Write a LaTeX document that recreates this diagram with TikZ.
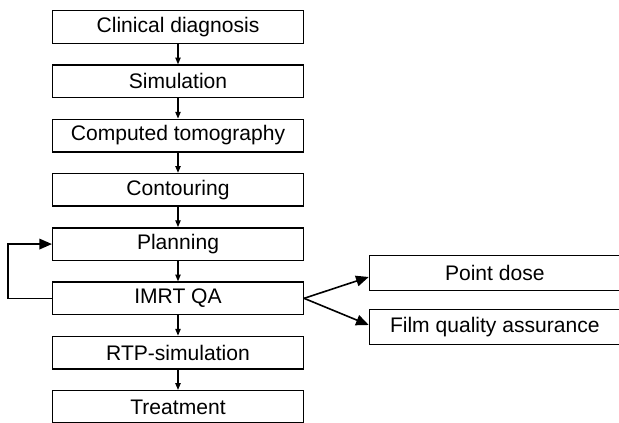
\documentclass[tikz,border=0pt]{standalone}
\usepackage{fontspec}
\setmainfont{Liberation Sans}
\usetikzlibrary{calc,arrows.meta,positioning}

\begin{document}
\begin{tikzpicture}[node distance=15.2pt and 48.5pt]

\tikzset{stagebox/.style={draw,line width=1.1pt,minimum width=188pt,minimum height=24.4pt,inner sep=0pt,font=\fontsize{15.8}{19}\selectfont},
checkbox/.style={stagebox,minimum height=26pt},
smallarrow/.style={line width=0.8pt,-{Triangle[length=5pt,width=4pt]}},
bigarrow/.style={line width=1.2pt,-{Triangle[length=9.5pt,width=8pt]}}}

\useasboundingbox (0,0) rectangle (464.25pt,-317.25pt);

% Main chain
\node[stagebox] (diag) at (133.5pt,-20.25pt) {Clinical diagnosis};
\node[stagebox,below=of diag] (sim) {Simulation};
\node[stagebox,below=of sim] (ct) {Computed tomography};
\node[stagebox,below=of ct] (contour) {Contouring};
\node[stagebox,below=of contour] (plan) {Planning};
\node[stagebox,below=of plan] (imrt) {IMRT QA};
\node[stagebox,below=of imrt] (rtpsim) {RTP-simulation};
\node[stagebox,below=of rtpsim] (treat) {Treatment};

\foreach \a/\b in {diag/sim,sim/ct,ct/contour,contour/plan,plan/imrt,imrt/rtpsim,rtpsim/treat}
  \draw[smallarrow] (\a) -- (\b);

% QA checks
\node[checkbox,right=of imrt,yshift=19pt] (pointdose) {Point dose};
\node[checkbox,right=of imrt,yshift=-21.5pt] (film) {Film quality assurance};

\draw[bigarrow] (imrt.east) -- ([yshift=-3pt]pointdose.west);
\draw[bigarrow] (imrt.east) -- ([yshift=1.5pt]film.west);

% Loop back to planning
\draw[bigarrow] (imrt.west) -- ++(-33pt,0) |- (plan.west);

\end{tikzpicture}
\end{document}
